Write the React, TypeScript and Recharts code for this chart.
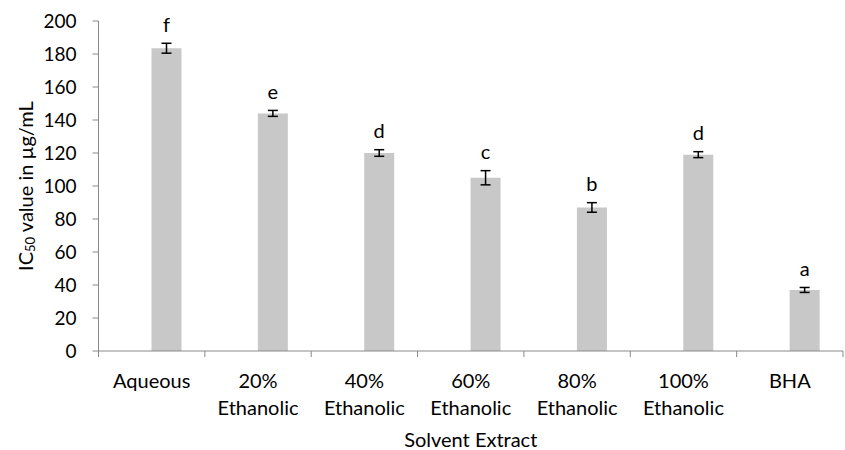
import React from 'react';
import { BarChart, Bar, XAxis, YAxis, ErrorBar, LabelList, Label } from 'recharts';

const categories = ['Aqueous', '20%\nEthanolic', '40%\nEthanolic', '60%\nEthanolic', '80%\nEthanolic', '100%\nEthanolic', 'BHA'];
const ic50 = [183.5, 144, 120, 105, 87, 119, 37];
const errors = [3, 1.8, 2, 4.3, 2.9, 1.8, 1.5];
const letters = ['f', 'e', 'd', 'c', 'b', 'd', 'a'];
const yTicks = [0, 20, 40, 60, 80, 100, 120, 140, 160, 180, 200];

const data = categories.map((name, i) => ({
  name,
  blank: null,
  value: ic50[i],
  err: errors[i],
  letter: letters[i],
}));

const FONT = 'Lato, "Open Sans", sans-serif';
const AXIS = '#898989';

const XTick = (props: any) => {
  const { x, y, payload, index } = props;
  const half = payload && payload.offset ? payload.offset : 53.2;
  const lines = String(payload.value).split('\n');
  const axisY = y - 8;
  return (
    <g>
      <line x1={x - half} y1={axisY} x2={x - half} y2={axisY + 6} stroke={AXIS} />
      {index === categories.length - 1 && (
        <line x1={x + half} y1={axisY} x2={x + half} y2={axisY + 6} stroke={AXIS} />
      )}
      <text x={x} y={axisY + 37} textAnchor="middle" fill="#000" fontSize={20} fontFamily={FONT}>
        {lines.map((l, i) => (
          <tspan key={i} x={x} dy={i === 0 ? 0 : 26.5}>
            {l}
          </tspan>
        ))}
      </text>
    </g>
  );
};

const LetterLabel = (props: any) => {
  const { x, y, width, height, index, value } = props;
  const d = data[index];
  const perUnit = height / d.value;
  const errTop = y - d.err * perUnit;
  return (
    <text x={x + width / 2} y={errTop - 11.5} textAnchor="middle" fill="#000" fontSize={20} fontFamily={FONT}>
      {value}
    </text>
  );
};

const YLabel = (props: any) => {
  const { viewBox } = props;
  const cx = 25;
  const cy = viewBox.y + viewBox.height / 2;
  return (
    <text
      x={cx}
      y={cy}
      transform={`rotate(-90, ${cx}, ${cy})`}
      textAnchor="middle"
      dominantBaseline="central"
      fill="#000"
      fontSize={20}
      fontFamily={FONT}
    >
      IC
      <tspan fontSize={13} dy={5}>50</tspan>
      <tspan dy={-5}> value in µg/mL</tspan>
    </text>
  );
};

export default function App() {
  return (
    <div style={{ position: 'absolute', left: 0, top: 0, background: '#fff' }}>
      <BarChart
        width={845}
        height={450}
        data={data}
        margin={{ top: 21, right: 2, bottom: 0, left: 0 }}
        barGap={0}
        barSize={30}
      >
        <XAxis
          dataKey="name"
          interval={0}
          height={99}
          stroke={AXIS}
          tickLine={false}
          tick={<XTick />}
        >
          <Label value="Solvent Extract" position="insideBottom" offset={3} fill="#000" fontSize={20} fontFamily={FONT} />
        </XAxis>
        <YAxis
          domain={[0, 200]}
          ticks={yTicks}
          width={98.5}
          stroke={AXIS}
          tickSize={6}
          tickMargin={16}
          tick={{ fill: '#000', fontSize: 19, fontFamily: FONT }}
          label={<YLabel />}
        />
        <Bar dataKey="blank" fill="#c8c8c8" isAnimationActive={false} />
        <Bar dataKey="value" fill="#c8c8c8" isAnimationActive={false}>
          <ErrorBar dataKey="err" width={5} stroke="#000" strokeWidth={1.5} />
          <LabelList dataKey="letter" content={<LetterLabel />} />
        </Bar>
      </BarChart>
    </div>
  );
}
